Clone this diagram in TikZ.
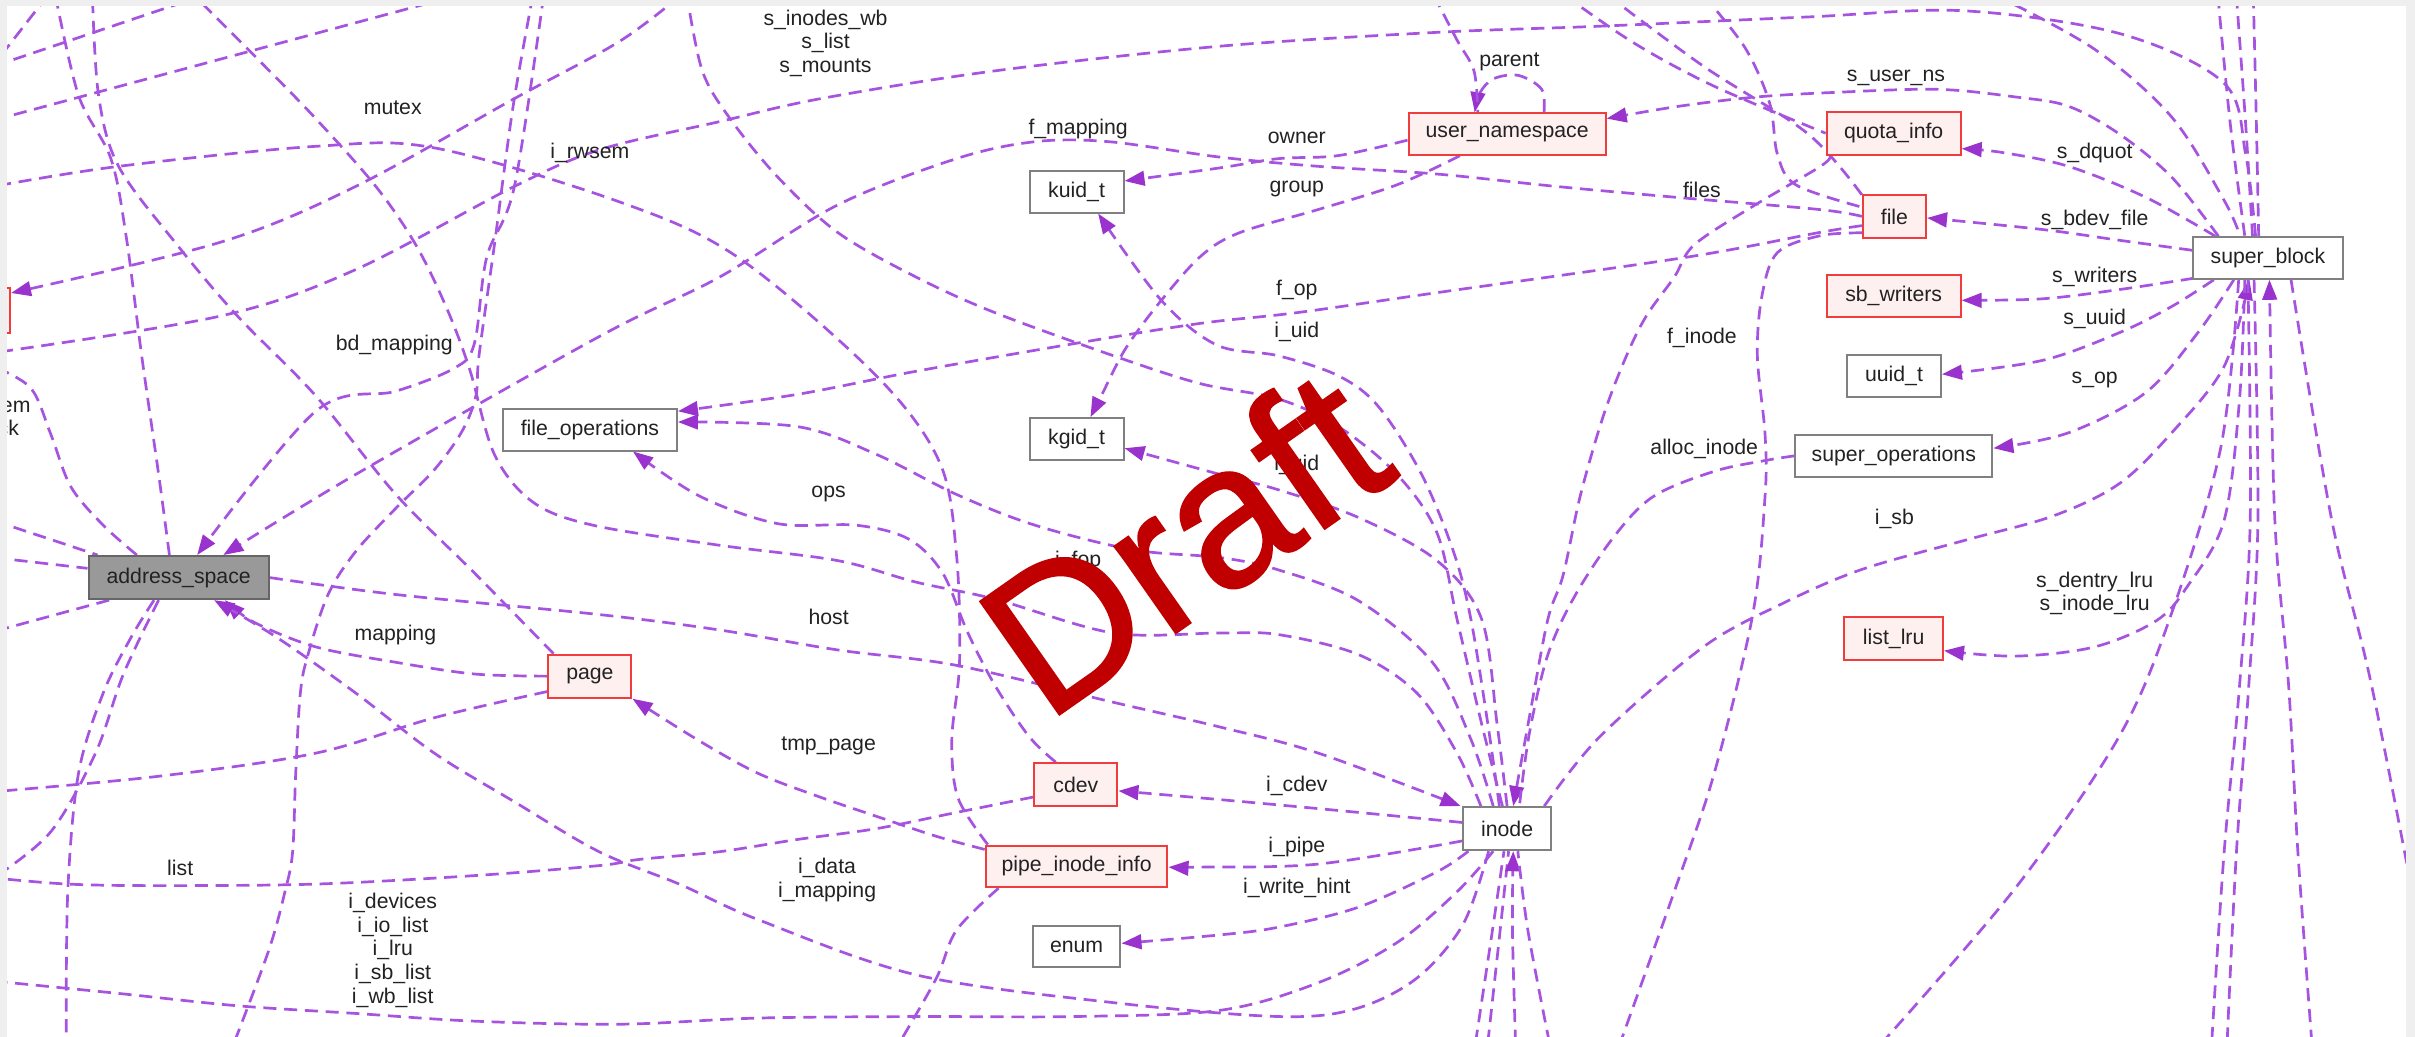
\documentclass[tikz,border=0pt]{standalone}
\usepackage{fontspec}
\setmainfont{Liberation Sans}
\newfontfamily\stampfont[FakeBold=1.2]{Liberation Sans}
\usetikzlibrary{arrows.meta,calc}
\definecolor{linec}{HTML}{A653E0}
\definecolor{tipc}{HTML}{9A32CD}
\definecolor{boxgray}{HTML}{808080}
\definecolor{boxred}{HTML}{F03C3C}
\definecolor{boxpink}{HTML}{FFF0F0}
\definecolor{hubfill}{HTML}{999999}
\definecolor{hubline}{HTML}{666666}
\definecolor{txt}{HTML}{222222}
\definecolor{draftred}{HTML}{C00000}
\definecolor{framegray}{HTML}{EFEFEF}
\newcommand\graphfont{\fontsize{13.8}{15.4}\selectfont}
\tikzset{
  conn/.style={draw=linec, line width=1.75pt, dash pattern=on 8.5pt off 5pt},
  arr/.style={-{Triangle[length=13pt,width=9.5pt,color=tipc]}},
  cls/.style={draw=boxgray, fill=white, line width=1.3pt, minimum height=27pt,
              inner sep=0pt, font=\graphfont, text=txt},
  redcls/.style={cls, draw=boxred, fill=boxpink},
  hubcls/.style={cls, draw=hubline, fill=hubfill},
  lab/.style={font=\graphfont, text=txt, inner sep=0pt, align=center},
  curve/.style={smooth, tension=0.55}
}
\begin{document}
\begin{tikzpicture}[x=1pt, y=-1pt]
\useasboundingbox (0,0) rectangle (1568,673);
\fill[white] (0,0) rectangle (1568,673);

% ---------- classes ----------
\node[hubcls, minimum width=117pt, minimum height=28pt] (asp) at (116,375) {address\_space};
\node[redcls, minimum width=54pt, minimum height=28pt] (page) at (383,439) {page};
\node[cls, minimum width=113pt] (fops) at (383,279) {file\_operations};
\node[cls, minimum width=61pt] (kuid) at (699,124.5) {kuid\_t};
\node[cls, minimum width=61pt] (kgid) at (699,285) {kgid\_t};
\node[redcls, minimum width=128pt] (userns) at (978.5,87) {user\_namespace};
\node[redcls, minimum width=87pt, minimum height=28pt] (quota) at (1229.5,86.5) {quota\_info};
\node[redcls, minimum width=41pt, minimum height=28pt] (file) at (1230,140.5) {file};
\node[redcls, minimum width=87pt] (sbw) at (1229.5,192) {sb\_writers};
\node[cls, minimum width=61pt] (uuid) at (1229.7,244) {uuid\_t};
\node[cls, minimum width=128pt] (sops) at (1229.6,296) {super\_operations};
\node[cls, minimum width=97pt] (sb) at (1472.5,167.5) {super\_block};
\node[redcls, minimum width=64pt, minimum height=28pt] (lru) at (1229.5,414.5) {list\_lru};
\node[cls, minimum width=57pt, minimum height=28pt] (inode) at (978.5,538) {inode};
\node[redcls, minimum width=54pt, minimum height=28pt] (cdev) at (698.5,509.5) {cdev};
\node[redcls, minimum width=118pt] (pipe) at (699,562.5) {pipe\_inode\_info};
\node[cls, minimum width=57pt] (enum) at (699,614.5) {enum};
\node[redcls, minimum width=47pt, minimum height=29pt] (rwsem) at (-17,201.5) {};

% ---------- free ends beyond the frame ----------
\coordinate (oA1) at (-4,43);   \coordinate (oA2) at (132,-3);
\coordinate (oB1) at (-4,78);   \coordinate (oB2) at (297,-3);
\coordinate (oMx) at (-4,121);  \coordinate (oD) at (442,-3);
\coordinate (oE) at (-4,229);   \coordinate (oF) at (-4,238);
\coordinate (oG1) at (31,-3);   \coordinate (oG2) at (-4,42);
\coordinate (oH) at (36,-3);    \coordinate (oI) at (60,-3);
\coordinate (oJ) at (353,-3);   \coordinate (oK) at (346,-3);
\coordinate (oK2) at (152,677); \coordinate (oU) at (931,-3);
\coordinate (oS1) at (1222,677);\coordinate (oS2) at (1436,677);
\coordinate (oS3) at (1446,677);\coordinate (oS4) at (1501,677);
\coordinate (oS5) at (1575,625);\coordinate (oT1) at (1440,-3);
\coordinate (oT2) at (1452,-3); \coordinate (oT3) at (1463,-3);
\coordinate (oT4) at (1296,-3); \coordinate (oQ) at (1016,-3);
\coordinate (oF1) at (1044,-3); \coordinate (oF2) at (1106,-3);
\coordinate (oL9) at (126,-3);  \coordinate (oM) at (446,-3);
\coordinate (oDev) at (-4,637); \coordinate (oList) at (-4,570);
\coordinate (oPg) at (-4,514);  \coordinate (oAs1) at (-4,570);
\coordinate (oAs2) at (43,677); \coordinate (oAs3) at (-4,410);
\coordinate (oAs4) at (-4,338); \coordinate (oAs5) at (-4,362);
\coordinate (oPb) at (584,677); \coordinate (oI1) at (958,677);
\coordinate (oI2) at (966,677); \coordinate (oI3) at (984,677);
\coordinate (oI4) at (1006,677);\coordinate (oFd) at (1052,677);

% ---------- connectors ----------
\begin{scope}
\clip (0,0) rectangle (1568,673);
\draw[conn] (oA1) -- (oA2);
\draw[conn] (oB1) -- (oB2);
\draw[conn] (oG1) -- (oG2);
% mutex
\draw[conn] plot[curve] coordinates {($(pipe.north west)+(2,0)$) (622,518) (618,480) (623,430) (621,360) (610,300) (569,244) (479,167) (402,131) (282,96) (205,95) (77,108) (oMx)};
\draw[conn,arr] plot[curve] coordinates {(oD) (402,27) (334,64) (231,121) (144,157) (rwsem.25)};
% s_inodes_wb / s_list / s_mounts
\draw[conn] plot[curve] coordinates {($(sb.north)+(-8,0)$) (1458,100) (1444,54) (1377,22) (1275,7) (1174,11) (1039,17) (933,21) (792,30) (646,46) (533,64) (467,79) (390,97) (334,121) (231,175) (144,205) (oE)};
\draw[conn] plot[curve] coordinates {($(asp.north west)+(32,0)$) (67,341) (46,316) (33,282) (20,252) (oF)};
\draw[conn] plot[curve] coordinates {($(asp.north)+(-6,0)$) (103,308) (92,231) (82,154) (72,103) (51,62) (oH)};
\draw[conn] plot[curve] coordinates {($(page.north west)+(4,0)$) (308,372) (257,321) (205,257) (154,205) (115,159) (77,108) (64,62) (oI)};
% bd_mapping
\draw[conn,arr] plot[curve] coordinates {(oJ) (334,121) (316,167) (308,223) (295,239) (257,254) (205,267) ($(asp.north)+(12,0)$)};
\draw[conn] plot[curve] coordinates {(oK) (333,70) (321,159) (311,231) (309,257) (300,280) (282,305) (257,330) (231,358) (213,386) (200,425) (195,450) (192,502) (190,553) (185,579) (174.5,617) (oK2)};
% f_mapping
\draw[conn,arr] plot[curve] coordinates {(file.west) (1181,136) (1087,128) (1010,121) (933,113) (856,108) (792,102) (720,92) (672,92) (621,103) (544,133) (467,180) (390,218) (231,308) ($(asp.north)+(29,0)$)};
% owner / group / parent
\draw[conn,arr] plot[curve] coordinates {($(userns.west)+(0,4)$) (869,101) (830,103) (792,109) ($(kuid.east)+(0,-7)$)};
\draw[conn,arr] plot[curve] coordinates {($(userns.south west)+(34,0)$) (907,120) (856,136) (805,151) (780,166) (754,195) (731,226) (716,255) ($(kgid.north)+(9,0)$)};
\draw[conn,arr] plot[curve] coordinates {($(userns.north)+(24,0)$) (1001,58) (986,49) (970,51) (961,60) ($(userns.north)+(-21,0)$)};
\draw[conn] plot[curve] coordinates {(oU) (946,26) (957,46) ($(userns.north)+(-19,0)$)};
% super_block members
\draw[conn,arr] plot[curve] coordinates {($(sb.north west)+(17,0)$) (1410,115) (1376,87) (1343,69) (1309,63) (1258,58) (1191,60) (1140,63) (1090,69) ($(userns.east)+(0,-10)$)};
\draw[conn,arr] plot[curve] coordinates {($(sb.north west)+(15,0)$) (1393,128) (1343,108) (1300,99) ($(quota.east)+(0,10)$)};
\draw[conn,arr] plot[curve] coordinates {($(sb.west)+(0,-5)$) (1376,156) (1326,149) ($(file.east)+(0,1)$)};
\draw[conn,arr] plot[curve] coordinates {($(sb.south west)+(1,-1)$) (1376,188) (1326,194) ($(sbw.east)+(0,3)$)};
\draw[conn,arr] plot[curve] coordinates {($(sb.south west)+(14,0)$) (1410,199) (1376,216) (1326,234) ($(uuid.east)+(0,-1)$)};
\draw[conn,arr] plot[curve] coordinates {($(sb.south west)+(27,0)$) (1427,216) (1393,255) (1343,281) ($(sops.east)+(0,-5)$)};
% i_sb
\draw[conn,arr] plot[curve] coordinates {($(inode.north east)+(-5,0)$) (1039,478) (1106,420) (1157,392) (1208,370) (1275,351) (1333,335) (1376,314) (1410,281) (1444,238) ($(sb.south)+(-12,0)$)};
% s_dentry_lru / s_inode_lru
\draw[conn,arr] plot[curve] coordinates {($(sb.south)+(-15,0)$) (1454,260) (1444,338) (1420,381) (1400,403) (1360,420) (1309,426) ($(lru.east)+(0,8)$)};
\draw[conn] plot[curve] coordinates {($(sb.south)+(-19,0)$) (1442,290) (1410,398) (1376,478) (1309,576) (oS1)};
\draw[conn] plot[curve] coordinates {($(sb.south)+(-13,0)$) (1461,338) (1454,446) (1444,554) (oS2)};
\draw[conn] plot[curve] coordinates {($(sb.south)+(-9,0)$) (1466,338) (1460,446) (1452,554) (oS3)};
\draw[conn,arr] plot[curve] coordinates {(oS4) (1492,554) (1486,446) (1477,338) ($(sb.south)+(1,0)$)};
\draw[conn] plot[curve] coordinates {($(sb.south)+(15,0)$) (1514,338) (1540,446) (oS5)};
\draw[conn] plot[curve] coordinates {(oT1) (1448,80) ($(sb.north)+(-15,0)$)};
\draw[conn] plot[curve] coordinates {(oT2) (1458,80) ($(sb.north)+(-10,0)$)};
\draw[conn] plot[curve] coordinates {(oT3) (1465,80) ($(sb.north)+(-6,0)$)};
\draw[conn] plot[curve] coordinates {(oT4) (1360,32) (1410,76) (1444,130) ($(sb.north)+(-18,0)$)};
% lines from above into quota_info and file
\draw[conn] plot[curve] coordinates {(oQ) (1061,28) (1113,56) (quota.west)};
\draw[conn] plot[curve] coordinates {(oF1) (1106,43) (1174,87) ($(file.north west)+(1,2)$)};
\draw[conn] plot[curve] coordinates {(oF2) (1133,31) (1149,67) (1154,100) (1166,120) ($(file.west)+(0,-6)$)};
% f_op
\draw[conn,arr] plot[curve] coordinates {($(file.west)+(0,6)$) (1181,151) (1095,167) (933,190) (842,203) (779,210) (698,223) (595,241) (518,256) ($(fops.east)+(0,-12)$)};
% i_fop
\draw[conn,arr] plot[curve] coordinates {($(inode.north)+(-9,0)$) (955,480) (930,430) (882,390) (830,370) (792,362) (736,357) (672,341) (621,321) (569,295) (518,277) ($(fops.east)+(0,-5)$)};
% ops
\draw[conn,arr] plot[curve] coordinates {($(cdev.north)+(-13,0)$) (668,478) (646,445) (628,410) (612,372) (590,350) (556,341) (505,340) (454,322) ($(fops.south)+(28,0)$)};
\draw[conn] plot[curve] coordinates {($(inode.north)+(-17,0)$) (946,489) (920,450) (882,425) (830,412) (792,411) (723,411) (646,389) (595,378) (544,364) (467,354) (385,341) (346,326) (321,295) (305,240) (290,200) (270,159) (244,121) (205,77) (167,38) (oL9)};
\draw[conn] plot[curve] coordinates {($(inode.north)+(-3,0)$) (962,470) (946,402) (933,346) (907,308) (869,277) (830,259) (779,249) (723,231) (646,203) (595,180) (544,151) (505,115) (474,77) (456,46) (oM)};
% i_uid, i_gid
\draw[conn,arr] plot[curve] coordinates {($(inode.north)+(-5,0)$) (966,470) (955,402) (944,359) (923,308) (895,264) (869,244) (830,231) (790,224) (754,195) ($(kuid.south)+(14,0)$)};
\draw[conn,arr] plot[curve] coordinates {(inode.north) (972,470) (962,402) (933,364) (882,336) (830,318) (792,308) ($(kgid.east)+(0,6)$)};
% host
\draw[conn,arr] plot[curve] coordinates {(asp.east) (257,386) (389,399) (467,409) (544,422) (621,432) (723,456) (792,472) (856,489) ($(inode.north west)+(-1,0)$)};
% mapping
\draw[conn,arr] plot[curve] coordinates {(page.west) (308,437.6) (257,430) (205,420) (165,404) ($(asp.south)+(30,0)$)};
% i_data / i_mapping
\draw[conn,arr] plot[curve] coordinates {($(inode.south)+(-12,0)$) (950,600) (920,635) (880,655) (830,660) (723,651) (595,633) (492,597) (441,574) (389,553) (333,520) (282,489) (231,450) (180,414) ($(asp.south)+(23,0)$)};
% i_devices ... i_wb_list
\draw[conn] plot[curve] coordinates {($(inode.south)+(-9,0)$) (946,579) (907,612) (856,638) (792,656) (698,660) (595,660) (492,661) (402,665) (308,663) (231,658) (154,653) (77,645) (oDev)};
% i_cdev, i_pipe, i_write_hint
\draw[conn,arr] plot[curve] coordinates {($(inode.west)+(0,-4)$) (856,525) (779,518) ($(cdev.east)+(0,4)$)};
\draw[conn,arr] plot[curve] coordinates {($(inode.west)+(0,8)$) (856,561) (779,563) ($(pipe.east)+(0,0.5)$)};
\draw[conn,arr] plot[curve] coordinates {($(inode.south west)+(4,0)$) (933,566) (882,589) (830,602) (792,607) ($(enum.east)+(0,-2)$)};
% tmp_page
\draw[conn,arr] plot[curve] coordinates {($(pipe.west)+(0,-11)$) (608,543) (569,530) (531,517) (492,502) (454,481) (page.south east)};
% list
\draw[conn] plot[curve] coordinates {($(cdev.west)+(0,8)$) (621,527.5) (569,538) (518,545) (467,553) (415,558) (389,562) (308,568.5) (205,574) (103,575) (44,574) (oList)};
\draw[conn] plot[curve] coordinates {($(page.west)+(0,10)$) (282,466) (205,489) (103,504) (oPg)};
\draw[conn] plot[curve] coordinates {($(asp.south)+(-13,0)$) (80,438) (62,489) (33,540) (oAs1)};
\draw[conn] plot[curve] coordinates {($(asp.south)+(-16,0)$) (85,414) (67,450) (51,502) (44,579) (oAs2)};
\draw[conn] ($(asp.south west)+(14,0)$) -- (oAs3);
\draw[conn] (oAs4) -- ($(asp.north west)+(6.5,0)$);
\draw[conn] (oAs5) -- ($(asp.west)+(0,-6)$);
\draw[conn] plot[curve] coordinates {($(pipe.south west)+(9,0)$) (621,604) (608,635) (oPb)};
% into the bottom of inode
\draw[conn] plot[curve] coordinates {(oI1) (969,604) ($(inode.south)+(-2,0)$)};
\draw[conn] plot[curve] coordinates {(oI2) (974,604) ($(inode.south)+(1,0)$)};
\draw[conn,arr] plot[curve] coordinates {(oI3) (982,604) ($(inode.south)+(4,0)$)};
\draw[conn] plot[curve] coordinates {(oI4) (992,604) ($(inode.south)+(7,0)$)};
% from file downwards
\draw[conn] plot[curve] coordinates {($(file.south west)+(0,-4)$) (1182,153) (1154,164) (1144,192) (1141,231) (1146,282) (1146,322) (1138,399) (1113,502) (1087,579) (oFd)};
% f_inode / alloc_inode
\draw[conn,arr] plot[curve] coordinates {($(quota.south west)+(3,0)$) (1182,108) (1138,134) (1100,159) (1087,180) (1069,205) (1056,231) (1041,270) (1026,322) (1015,373) (1005,402) (994,460) ($(inode.north)+(4,0)$)};
\draw[conn] plot[curve] coordinates {(sops.west) (1146,299) (1113,306) (1074,322) (1049,347) (1023,386) (1005,425) (993,476) ($(inode.north)+(8,0)$)};
\end{scope}

% redraw the classes over the connectors
\node[hubcls, minimum width=117pt, minimum height=28pt] at (asp) {address\_space};
\node[redcls, minimum width=54pt, minimum height=28pt] at (page) {page};
\node[cls, minimum width=113pt] at (fops) {file\_operations};
\node[cls, minimum width=61pt] at (kuid) {kuid\_t};
\node[cls, minimum width=61pt] at (kgid) {kgid\_t};
\node[redcls, minimum width=128pt] at (userns) {user\_namespace};
\node[redcls, minimum width=87pt, minimum height=28pt] at (quota) {quota\_info};
\node[redcls, minimum width=41pt, minimum height=28pt] at (file) {file};
\node[redcls, minimum width=87pt] at (sbw) {sb\_writers};
\node[cls, minimum width=61pt] at (uuid) {uuid\_t};
\node[cls, minimum width=128pt] at (sops) {super\_operations};
\node[cls, minimum width=97pt] at (sb) {super\_block};
\node[redcls, minimum width=64pt, minimum height=28pt] at (lru) {list\_lru};
\node[cls, minimum width=57pt, minimum height=28pt] at (inode) {inode};
\node[redcls, minimum width=54pt, minimum height=28pt] at (cdev) {cdev};
\node[redcls, minimum width=118pt] at (pipe) {pipe\_inode\_info};
\node[cls, minimum width=57pt] at (enum) {enum};

% ---------- member labels ----------
\node[lab] (l1) at (536,28) {s\_inodes\_wb\\s\_list\\s\_mounts};
\node[lab] (l2) at (255,70) {mutex};
\node[lab] (l3) at (383,99) {i\_rwsem};
\node[lab] (l4) at (700,84) {f\_mapping};
\node[lab] (l5) at (842,89.5) {owner};
\node[lab] (l6) at (842,122.5) {group};
\node[lab] (l7) at (980,40) {parent};
\node[lab] (l8) at (1231,50.5) {s\_user\_ns};
\node[lab] (l9) at (1360,99.6) {s\_dquot};
\node[lab] (l10) at (1105,123) {files};
\node[lab] (l11) at (1360,143) {s\_bdev\_file};
\node[lab] (l12) at (842,188.5) {f\_op};
\node[lab] (l13) at (1360,179.7) {s\_writers};
\node[lab] (l14) at (842,215.6) {i\_uid};
\node[lab] (l15) at (1105,219.5) {f\_inode};
\node[lab] (l16) at (1360,207) {s\_uuid};
\node[lab] (l17) at (256,224) {bd\_mapping};
\node[lab, anchor=east] (l18a) at (20,264) {i\_mmap\_rwsem};
\node[lab, anchor=east] (l18b) at (12.5,279) {invalidate\_lock};
\node[lab] (l19) at (1360,247) {s\_op};
\node[lab] (l20) at (842,301.6) {i\_gid};
\node[lab] (l21) at (1106.5,291.3) {alloc\_inode};
\node[lab] (l22) at (538,321) {ops};
\node[lab] (l23) at (1230,337) {i\_sb};
\node[lab] (l24) at (700,364.5) {i\_fop};
\node[lab] (l25) at (538,400.4) {host};
\node[lab] (l26) at (256.7,412.5) {mapping};
\node[lab] (l27) at (1360,385.3) {s\_dentry\_lru\\s\_inode\_lru};
\node[lab] (l28) at (538,484) {tmp\_page};
\node[lab] (l29) at (842,510.3) {i\_cdev};
\node[lab] (l30) at (842,550) {i\_pipe};
\node[lab] (l31) at (117,563.4) {list};
\node[lab] (l32) at (537,571.5) {i\_data\\i\_mapping};
\node[lab] (l33) at (842,576.3) {i\_write\_hint};
\node[lab] (l34) at (255,617) {i\_devices\\i\_io\_list\\i\_lru\\i\_sb\_list\\i\_wb\_list};

% ---------- watermark ----------
\node[anchor=base west, rotate=35, inner sep=0pt, text=draftred,
      font=\stampfont\fontsize{130}{130}\selectfont] (draft) at (679,470) {Draft};

% ---------- viewer frame ----------
\fill[framegray] (0,0) rectangle (1568,3.9);
\fill[framegray] (0,0) rectangle (4.6,673);
\fill[framegray] (1562,0) rectangle (1568,673);
\end{tikzpicture}
\end{document}
